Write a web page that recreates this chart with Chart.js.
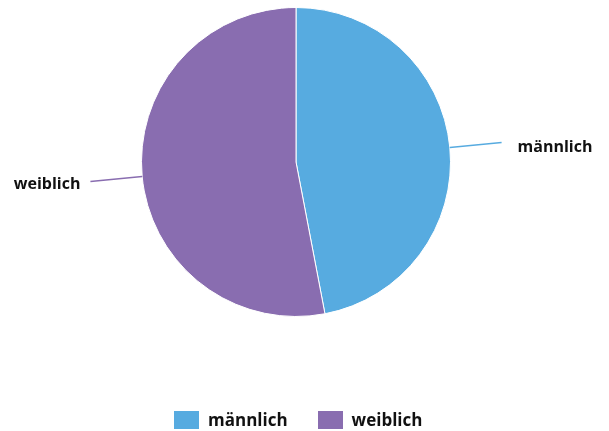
<!DOCTYPE html>
<html>
<head>
<meta charset="utf-8">
<script src="https://cdn.jsdelivr.net/npm/chart.js@4"></script>
<style>
    body { margin: 0; background: #fff; }
    #wrap { position: relative; width: 609px; height: 431px; }
    #legend { position: absolute; left: 174px; top: 408px; display: flex; font: bold 17px "Open Sans", sans-serif; color: #111; }
    .item { display: flex; align-items: center; margin-right: 30px; }
    .box { width: 25px; height: 18px; margin-right: 9px; }
</style>
</head>
<body>
<div id="wrap">
    <canvas id="pie" width="609" height="431"></canvas>
    <div id="legend"></div>
</div>
<script>
// Geschlecht
const labels = ['männlich', 'weiblich'];
const values = [47, 53];
const colors = ['#57abe0', '#896db0'];

// Beschriftung mit Linie
const leaderLabels = {
    id: 'leaderLabels',
    afterDatasetsDraw(chart) {
        const ctx = chart.ctx;
        chart.getDatasetMeta(0).data.forEach((arc, i) => {
            const mid = (arc.startAngle + arc.endAngle) / 2;
            const r = arc.outerRadius;
            const x1 = arc.x + Math.cos(mid) * r;
            const y1 = arc.y + Math.sin(mid) * r;
            const x2 = arc.x + Math.cos(mid) * (r + 52);
            const y2 = arc.y + Math.sin(mid) * (r + 52);
            ctx.save();
            ctx.strokeStyle = colors[i];
            ctx.lineWidth = 1.5;
            ctx.beginPath();
            ctx.moveTo(x1, y1);
            ctx.lineTo(x2, y2);
            ctx.stroke();
            ctx.font = 'bold 16px "Open Sans", sans-serif';
            ctx.fillStyle = '#111';
            ctx.textBaseline = 'middle';
            const right = Math.cos(mid) >= 0;
            ctx.textAlign = right ? 'left' : 'right';
            ctx.fillText(labels[i], x2 + (right ? 16 : -10), y2 + (right ? 5 : 3));
            ctx.restore();
        });
    }
};

new Chart(document.getElementById('pie').getContext('2d'), {
    type: 'pie',
    data: {
        labels: labels,
        datasets: [{
            data: values,
            backgroundColor: colors,
            borderColor: '#ffffff',
            borderWidth: 1
        }]
    },
    options: {
        responsive: false,
        animation: false,
        layout: {
            padding: { top: 7, bottom: 114, left: 141, right: 158 }
        },
        plugins: {
            legend: { display: false },
            tooltip: { enabled: false }
        }
    },
    plugins: [leaderLabels]
});

// Legende
const legend = document.getElementById('legend');
labels.forEach((label, i) => {
    const item = document.createElement('div');
    item.className = 'item';
    item.innerHTML = `<span class="box" style="background:${colors[i]}"></span><span>${label}</span>`;
    legend.appendChild(item);
});
</script>
</body>
</html>
